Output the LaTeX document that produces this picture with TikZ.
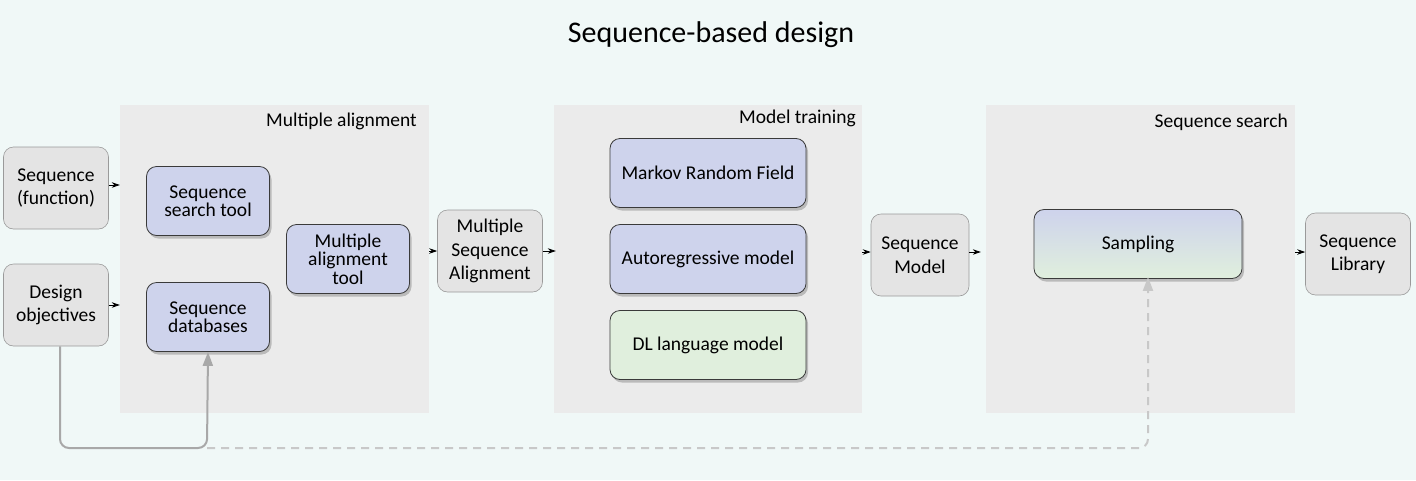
\documentclass[tikz,border=0pt]{standalone}
\usepackage{fontspec}
\setmainfont{Carlito}
\usetikzlibrary{shadows,arrows.meta}
\definecolor{bgc}{HTML}{F0F8F7}
\definecolor{panelc}{HTML}{EBEBEB}
\definecolor{grayfill}{HTML}{E4E4E4}
\definecolor{grayline}{HTML}{9A9A9A}
\definecolor{bluefill}{HTML}{CED3EC}
\definecolor{greenfill}{HTML}{E0EFDD}
\definecolor{darkline}{HTML}{3A3A3A}
\definecolor{linkc}{HTML}{A8A8A8}
\definecolor{dashc}{HTML}{C8C8C8}
\begin{document}
\begin{tikzpicture}[x=1pt,y=-1pt,
  txt/.style={font=\fontsize{19.5}{23.5}\selectfont},
  btxt/.style={font=\fontsize{19.5}{18.5}\selectfont},
  panel/.style={fill=panelc, draw=none, inner sep=0pt},
  plabel/.style={txt, anchor=north east, inner sep=0pt},
  grayb/.style={txt, draw=grayline, fill=grayfill, rounded corners=10pt, line width=0.6pt, align=center, inner sep=2pt, minimum width=105pt, minimum height=82pt},
  blueb/.style={btxt, draw=darkline, fill=bluefill, rounded corners=10pt, line width=0.8pt, align=center, inner sep=2pt, minimum width=123pt, minimum height=69pt, drop shadow={shadow xshift=2pt, shadow yshift=-3pt, opacity=0.45}},
  bigb/.style={blueb, minimum width=196pt},
  arr/.style={-{Stealth[length=8pt,width=5.5pt]}, line width=0.8pt, black},
  link/.style={line width=2pt, draw=linkc, rounded corners=9pt, -{Triangle[length=14pt,width=10pt]}},
  dlink/.style={line width=2pt, draw=dashc, dash pattern=on 8pt off 6pt, rounded corners=9pt, -{Triangle[length=14pt,width=10pt]}}
]
\fill[bgc] (0,0) rectangle (1416,480);
\useasboundingbox (0,0) rectangle (1416,480);

\node[font=\fontsize{30}{34}\selectfont] (title) at (711,35) {Sequence-based design};

% panels
\node[panel, minimum width=309pt, minimum height=308pt] (ma) at (274.5,259) {};
\node[panel, minimum width=308pt, minimum height=308pt] (mt) at (708,259) {};
\node[panel, minimum width=309pt, minimum height=308pt] (ss) at (1140.5,259) {};
\node[plabel] (malab) at (417,113) {Multiple alignment};
\node[plabel] (mtlab) at (856,110) {Model training};
\node[plabel] (sslab) at (1288,114) {Sequence search};

% gray nodes
\node[grayb] (seqf) at (56,188) {Sequence\\(function)};
\node[grayb] (des) at (56,305) {Design\\objectives};
\node[grayb] (msa) at (490,251) {Multiple\\Sequence\\Alignment};
\node[grayb, minimum width=98pt] (smod) at (920,255) {Sequence\\Model};
\node[grayb] (slib) at (1358,254) {Sequence\\Library};

% blue nodes
\node[blueb] (sst) at (208,201) {Sequence\\search tool};
\node[blueb] (sdb) at (208,317) {Sequence\\databases};
\node[blueb] (mat) at (348,259) {Multiple\\alignment\\tool};
\node[bigb] (mrf) at (708,173) {Markov Random Field};
\node[bigb] (arm) at (708,259) {Autoregressive model};
\node[bigb, fill=greenfill] (dlm) at (708,345) {DL language model};
\node[blueb, minimum width=208pt, top color=bluefill, bottom color=greenfill] (samp) at (1138,244) {Sampling};

% short arrows
\draw[arr] (seqf.east |- 0,185) -- (ma.west |- 0,185);
\draw[arr] (des.east) -- (des.east -| ma.west);
\draw[arr] (ma.east |- msa.west) -- (msa.west);
\draw[arr] (msa.east) -- ([xshift=2pt]msa.east -| mt.west);
\draw[arr] (mt.east |- 0,252) -- (smod.west |- 0,252);
\draw[arr] (smod.east |- 0,252) -- ([xshift=-5pt]ss.west |- 0,252);
\draw[arr] (ss.east |- 0,252) -- (slib.west |- 0,252);

% feedback links
\coordinate (corner) at (207,448);
\draw[link] ([xshift=4pt]des.south) -- ([xshift=4pt]des.south |- corner) -- (corner) -- (sdb.south);
\draw[dlink] (corner) -- (1148,448) -- ([xshift=10pt,yshift=2pt]samp.south);
\end{tikzpicture}
\end{document}
